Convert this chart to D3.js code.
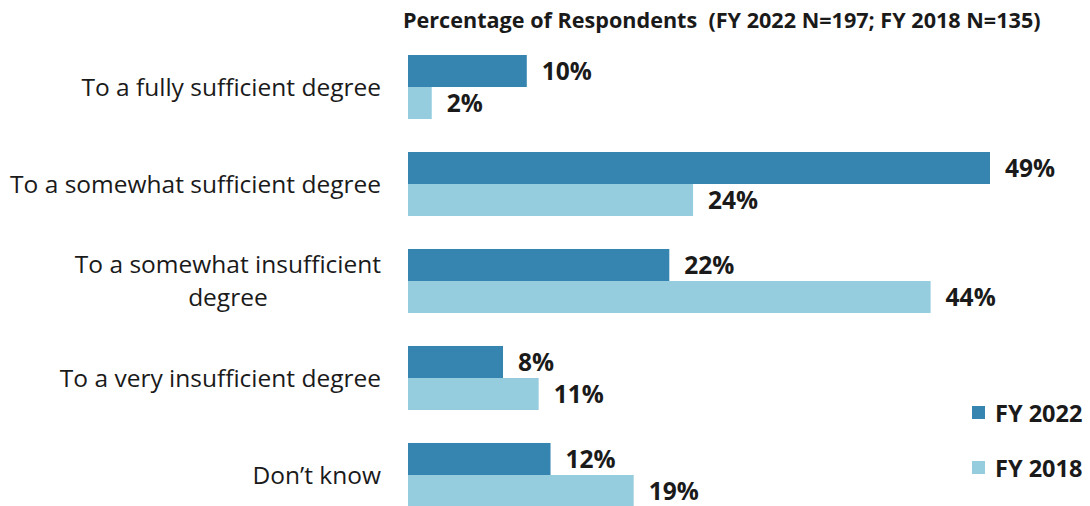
<!DOCTYPE html>
<html>
<head>
<meta charset="utf-8">
<script src="https://cdn.jsdelivr.net/npm/d3@7"></script>
<style>
  body { margin: 0; background: #fff; }
  svg { display: block; }
  text { font-family: "Open Sans", Lato, sans-serif; fill: #1a1a1a; white-space: pre; }
</style>
</head>
<body>
<div class="chart"></div>
<script>
// categories, top to bottom (array entries = label lines)
const categories = [
  ["To a fully sufficient degree"],
  ["To a somewhat sufficient degree"],
  ["To a somewhat insufficient", "degree"],
  ["To a very insufficient degree"],
  ["Don\u2019t know"]
];
const series = ["FY 2022", "FY 2018"];
const fy2022 = [10, 49, 22, 8, 12];
const fy2018 = [2, 24, 44, 11, 19];
const colors = ["#3585b0", "#95cddf"];
const title = "Percentage of Respondents  (FY 2022 N=197; FY 2018 N=135)";

const width = 1090, height = 506;
const left = 408;

const data = categories.map((c, i) => ({
  key: c.join(" "),
  lines: c,
  values: [fy2022[i], fy2018[i]]
}));

const svg = d3.select(".chart").append("svg")
  .attr("width", width)
  .attr("height", height);

const x = d3.scaleLinear().domain([0, 49]).range([left, 990]);

const y = d3.scaleBand()
  .domain(data.map(d => d.key))
  .range([55, 507])
  .paddingInner(0.34)
  .paddingOuter(0);

const ySub = d3.scaleBand()
  .domain(series)
  .range([0, y.bandwidth()]);

// title
svg.append("text")
  .attr("x", 403)
  .attr("y", 28)
  .attr("font-size", "21.6px")
  .attr("font-weight", "bold")
  .text(title);

const group = svg.selectAll("g.grp")
  .data(data)
  .enter()
  .append("g")
  .attr("class", "grp")
  .attr("transform", d => "translate(0," + y(d.key) + ")");

group.selectAll("rect")
  .data(d => d.values.map((v, j) => ({ s: series[j], v: v, j: j })))
  .enter()
  .append("rect")
  .attr("x", x(0))
  .attr("y", d => ySub(d.s))
  .attr("width", d => x(d.v) - x(0))
  .attr("height", ySub.bandwidth())
  .attr("fill", d => colors[d.j]);

group.selectAll("text.val")
  .data(d => d.values.map((v, j) => ({ s: series[j], v: v })))
  .enter()
  .append("text")
  .attr("class", "val")
  .attr("x", d => x(d.v) + 15)
  .attr("y", d => ySub(d.s) + ySub.bandwidth() / 2)
  .attr("dy", "0.38em")
  .attr("font-size", "24.5px")
  .attr("font-weight", "bold")
  .text(d => d.v + "%");

// category labels: right aligned block, lines centred within it
group.each(function(d) {
  const g = d3.select(this);
  const mid = y.bandwidth() / 2;
  const n = d.lines.length;
  const lineH = 33;
  const t = g.append("text")
    .attr("font-size", "24.5px")
    .attr("text-anchor", n > 1 ? "middle" : "end");
  d.lines.forEach((ln, k) => {
    t.append("tspan")
      .attr("x", 381)
      .attr("y", mid + (k - (n - 1) / 2) * lineH)
      .attr("dy", "0.36em")
      .text(ln);
  });
  if (n > 1) {
    const w = d3.max(t.selectAll("tspan").nodes(), nd => nd.getComputedTextLength());
    t.selectAll("tspan").attr("x", 381 - w / 2);
  }
});

// legend
const legend = svg.selectAll("g.leg")
  .data(series)
  .enter()
  .append("g")
  .attr("class", "leg")
  .attr("transform", (d, i) => "translate(972," + (406 + i * 55) + ")");

legend.append("rect")
  .attr("width", 13)
  .attr("height", 13)
  .attr("fill", (d, i) => colors[i]);

legend.append("text")
  .attr("x", 23)
  .attr("y", 7)
  .attr("dy", "0.38em")
  .attr("font-size", "23.5px")
  .attr("font-weight", "bold")
  .text(d => d);
</script>
</body>
</html>
